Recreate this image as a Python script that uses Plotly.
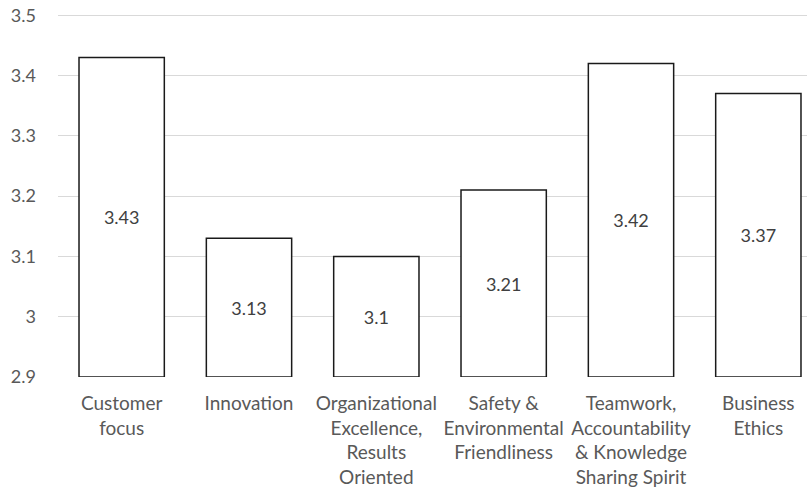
import plotly.graph_objects as go

categories = [
    "Customer<br>focus",
    "Innovation",
    "Organizational<br>Excellence,<br>Results<br>Oriented",
    "Safety &<br>Environmental<br>Friendliness",
    "Teamwork,<br>Accountability<br>& Knowledge<br>Sharing Spirit",
    "Business<br>Ethics",
]
values = [3.43, 3.13, 3.1, 3.21, 3.42, 3.37]
axis_min = 2.9
axis_max = 3.5
tick_step = 0.1

FONT = "Lato"

fig = go.Figure(
    go.Bar(
        x=categories,
        y=[v - axis_min for v in values],
        base=axis_min,
        text=[f"{v:g}" for v in values],
        textposition="inside",
        insidetextanchor="middle",
        textfont=dict(family=FONT, size=18, color="#404040"),
        marker=dict(color="white", line=dict(color="#1a1a1a", width=1.5)),
        hoverinfo="skip",
    )
)

# The reference chart is cropped on its right side, so the plot area runs past the window edge.
fig.update_layout(
    width=822,
    height=490,
    margin=dict(l=58, r=0, t=14, b=113),
    paper_bgcolor="white",
    plot_bgcolor="white",
    bargap=0.33,
    showlegend=False,
    font=dict(family=FONT, size=18, color="#595959"),
)
fig.update_xaxes(
    type="category",
    automargin=False,
    showgrid=False,
    showline=False,
    ticks="",
    tickangle=0,
    ticklabelstandoff=13,
    tickfont=dict(family=FONT, size=19, color="#595959"),
)
fig.update_yaxes(
    # tiny headroom so the top gridline at 3.5 is not dropped at the plot edge
    range=[axis_min, axis_max + 0.002],
    automargin=False,
    dtick=tick_step,
    tick0=axis_min,
    showgrid=True,
    gridcolor="#d9d9d9",
    gridwidth=1,
    zeroline=False,
    showline=False,
    ticks="",
    ticklabelstandoff=21,
    tickfont=dict(family=FONT, size=18, color="#595959"),
)

fig.write_html(
    "out.html",
    config={"displayModeBar": False, "staticPlot": True},
    post_script="document.body.style.margin='0';document.body.style.overflow='hidden';",
)
